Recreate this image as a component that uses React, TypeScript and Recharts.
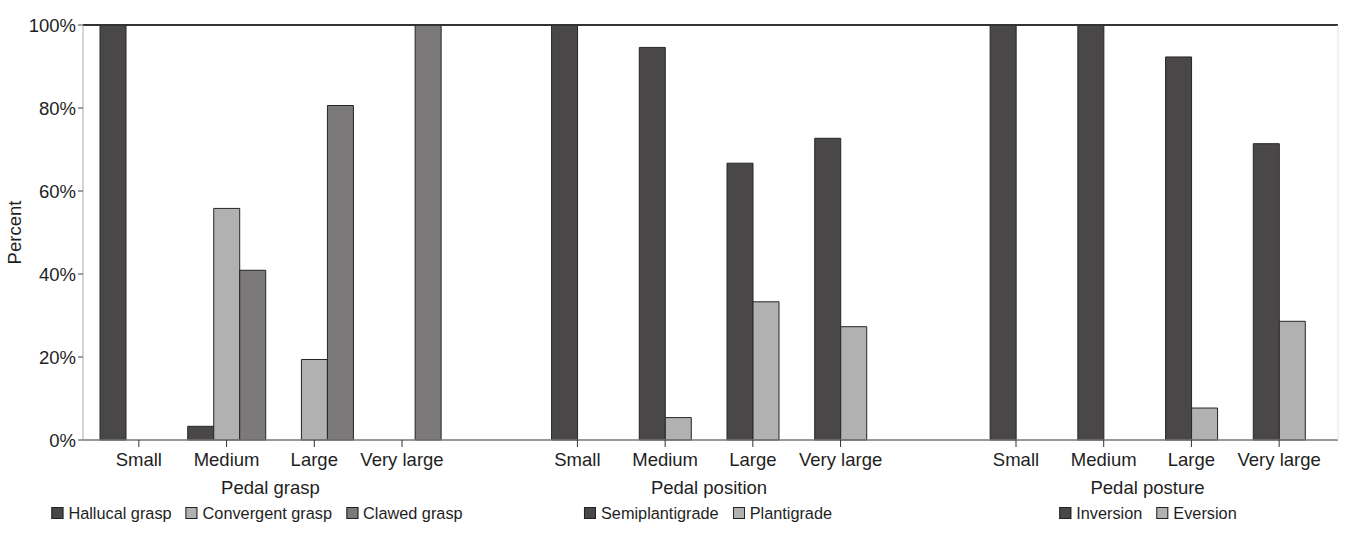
import { Bar, BarChart, Legend, ReferenceLine, XAxis, YAxis, Label } from "recharts";

const sizeClasses = ["Small", "Medium", "Large", "Very large"];
const panelTitles = ["Pedal grasp", "Pedal position", "Pedal posture"];
const percentTicks = [0, 20, 40, 60, 80, 100];

// pedal grasp
const hallucalGrasp = [100, 3.3, 0, 0];
const convergentGrasp = [0, 55.8, 19.4, 0];
const clawedGrasp = [0, 40.9, 80.6, 100];
// pedal position
const semiplantigrade = [100, 94.6, 66.7, 72.7];
const plantigrade = [0, 5.4, 33.3, 27.3];
// pedal posture
const inversion = [100, 100, 92.3, 71.4];
const eversion = [0, 0, 7.7, 28.6];

const series = [
  { key: "hallucal", name: "Hallucal grasp", panel: 0, values: hallucalGrasp },
  { key: "convergent", name: "Convergent grasp", panel: 0, values: convergentGrasp },
  { key: "clawed", name: "Clawed grasp", panel: 0, values: clawedGrasp },
  { key: "semiplantigrade", name: "Semiplantigrade", panel: 1, values: semiplantigrade },
  { key: "plantigrade", name: "Plantigrade", panel: 1, values: plantigrade },
  { key: "inversion", name: "Inversion", panel: 2, values: inversion },
  { key: "eversion", name: "Eversion", panel: 2, values: eversion },
];

const DARK = "#4a4748";
const LIGHT = "#b1b1b1";
const MID = "#7b797a";
const seriesFill: Record<string, string> = {
  hallucal: DARK,
  convergent: LIGHT,
  clawed: MID,
  semiplantigrade: DARK,
  plantigrade: LIGHT,
  inversion: DARK,
  eversion: LIGHT,
};

const axisIds = ["grasp", "position", "posture"];
const legendCenters = [257, 708, 1148];
const axisPadding = { left: 12, right: 15 };
const FONT = "'Liberation Sans', Arial, Helvetica, sans-serif";
const TEXT = "#1e1e1e";

type Row = { id: string; size: string; panel: number; index: number; [k: string]: any };

const rows: Row[] = panelTitles.flatMap((_, p) => {
  const panelRows: Row[] = sizeClasses.map((size, i) => {
    const row: Row = { id: `${p}-${i}`, size, panel: p, index: i };
    series
      .filter((s) => s.panel === p)
      .forEach((s) => {
        row[s.key] = s.values[i];
      });
    return row;
  });
  // empty slot between panels
  if (p < panelTitles.length - 1) {
    panelRows.push({ id: `gap-${p}`, size: "", panel: p, index: -1 });
  }
  return panelRows;
});

function CategoryTick(props: any) {
  const { x, y, payload } = props;
  const row = rows.find((r) => r.id === payload.value);
  if (!row || row.index < 0) {
    return null;
  }
  const half = payload.offset ?? 43.8;
  return (
    <g>
      <line x1={x} x2={x} y1={y} y2={y + 7} stroke="#333" strokeWidth={1} />
      <text x={x} y={y + 26} textAnchor="middle" fontSize={18.5} fill={TEXT}>
        {row.size}
      </text>
      {row.index === 1 && (
        <text x={x + half} y={y + 53.5} textAnchor="middle" fontSize={18.5} fill={TEXT}>
          {panelTitles[row.panel]}
        </text>
      )}
    </g>
  );
}

function PanelLegend(props: any) {
  const payload: any[] = props.payload ?? [];
  const orderOf = (item: any) => series.findIndex((s) => s.key === item.dataKey);
  const sorted = [...payload].sort((a, b) => orderOf(a) - orderOf(b));
  return (
    <div style={{ position: "relative", width: 1368, height: 30, fontFamily: FONT }}>
      {panelTitles.map((title, p) => (
        <div
          key={title}
          style={{
            position: "absolute",
            left: legendCenters[p],
            top: 0,
            height: 30,
            transform: "translateX(-50%)",
            display: "flex",
            alignItems: "center",
            gap: 14,
            whiteSpace: "nowrap",
          }}
        >
          {sorted
            .filter((item) => series[orderOf(item)]?.panel === p)
            .map((item) => (
              <span key={item.value} style={{ display: "flex", alignItems: "center" }}>
                <span
                  style={{
                    width: 10,
                    height: 10,
                    background: item.color,
                    border: "1px solid #222",
                    marginRight: 5,
                  }}
                />
                <span style={{ fontSize: 16.3, color: TEXT, lineHeight: "18px" }}>{item.value}</span>
              </span>
            ))}
        </div>
      ))}
    </div>
  );
}

function PercentLabel() {
  return (
    <text
      x={0}
      y={0}
      transform="translate(21, 232.5) rotate(-90)"
      textAnchor="middle"
      fontSize={18.5}
      fill={TEXT}
    >
      Percent
    </text>
  );
}

export default function App() {
  return (
    <div style={{ position: "absolute", left: 0, top: 0, background: "#fff", fontFamily: FONT }}>
      <BarChart
        width={1368}
        height={546}
        data={rows}
        barGap={0}
        margin={{ top: 25, right: 29, bottom: 18, left: 0 }}
      >
        <XAxis
          xAxisId="grasp"
          dataKey="id"
          padding={axisPadding}
          height={58}
          interval={0}
          tickSize={0}
          tickMargin={0}
          tickLine={false}
          axisLine={{ stroke: "#777", strokeWidth: 1.5 }}
          tick={<CategoryTick />}
        />
        <XAxis xAxisId="position" dataKey="id" padding={axisPadding} hide />
        <XAxis xAxisId="posture" dataKey="id" padding={axisPadding} hide />
        <YAxis
          domain={[0, 100]}
          ticks={percentTicks}
          type="number"
          width={83}
          tickSize={5}
          tickMargin={2}
          tickFormatter={(v) => `${v}%`}
          tick={{ fontSize: 18.5, fill: TEXT }}
          tickLine={{ stroke: "#444" }}
          axisLine={{ stroke: "#aaa" }}
        >
          <Label content={<PercentLabel />} />
        </YAxis>
        <YAxis
          yAxisId="frame"
          orientation="right"
          type="number"
          domain={[0, 100]}
          width={1}
          tick={false}
          tickLine={false}
          axisLine={{ stroke: "#e4e4e4" }}
        />
        {series.map((s) => (
          <Bar
            key={s.key}
            dataKey={s.key}
            name={s.name}
            xAxisId={axisIds[s.panel]}
            fill={seriesFill[s.key]}
            stroke="#262626"
            strokeWidth={1}
            barSize={26}
            isAnimationActive={false}
          />
        ))}
        <ReferenceLine xAxisId="grasp" y={100} stroke="#333" strokeWidth={2} />
        <Legend
          verticalAlign="bottom"
          content={<PanelLegend />}
          wrapperStyle={{ left: 0, width: 1368, bottom: 18, height: 30 }}
        />
      </BarChart>
    </div>
  );
}
